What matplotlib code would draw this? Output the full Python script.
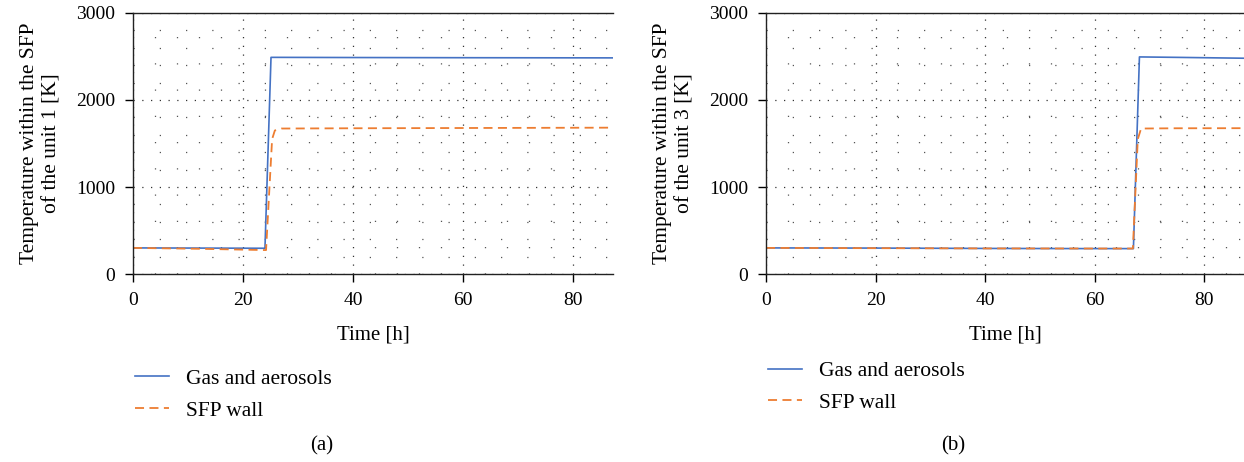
import numpy as np
import matplotlib.pyplot as plt
from matplotlib.ticker import MultipleLocator

# (a) unit 1, (b) unit 3
time_a = [0, 12, 24.0, 25.1, 26, 40, 60, 87.3]
gas_a = [300, 298, 296, 2490, 2490, 2488, 2486, 2484]
wall_time_a = [0, 12, 24.2, 25.3, 25.8, 27, 40, 60, 87.3]
wall_a = [300, 290, 275, 1550, 1650, 1672, 1675, 1678, 1682]

time_b = [0, 20, 40, 60, 67.1, 68.2, 75, 87.3]
gas_b = [300, 298, 294, 292, 292, 2495, 2490, 2480]
wall_time_b = [0, 20, 40, 60, 67.0, 67.9, 68.5, 75, 87.3]
wall_b = [300, 297, 294, 293, 293, 1550, 1672, 1675, 1676]

labels = ["Gas and aerosols", "SFP wall"]
ylabels = ["Temperature within the SFP\nof the unit 1 [K]",
           "Temperature within the SFP\nof the unit 3 [K]"]
panels = ["(a)", "(b)"]

blue = "#4472C4"
orange = "#ED7D31"

plt.rcParams['font.family'] = ['Liberation Serif', 'DejaVu Serif']
plt.rcParams['font.size'] = 14

fig = plt.figure(figsize=(12.44, 4.62), dpi=100)
ax_a = fig.add_axes([0.1069, 0.4069, 0.3859, 0.565])
ax_b = fig.add_axes([0.6158, 0.4069, 0.3842, 0.565])

series = [(ax_a, time_a, gas_a, wall_time_a, wall_a),
          (ax_b, time_b, gas_b, wall_time_b, wall_b)]

for i, (ax, t, g, wt, w) in enumerate(series):
    ax.plot(t, g, color=blue, lw=1.2, label=labels[0])
    ax.plot(wt, w, color=orange, lw=1.3, ls=(0, (5, 3)), label=labels[1])
    ax.set_xlim(0, 87.3)
    ax.set_ylim(0, 3000)
    ax.xaxis.set_major_locator(MultipleLocator(20))
    ax.xaxis.set_minor_locator(MultipleLocator(4))
    ax.yaxis.set_major_locator(MultipleLocator(1000))
    ax.yaxis.set_minor_locator(MultipleLocator(200))
    ax.grid(which='major', color='#333333', ls=(0, (1, 6)), lw=0.9)
    ax.grid(which='minor', color='#555555', ls=(0, (1, 20)), lw=0.9)
    ax.set_axisbelow(True)
    ax.spines['right'].set_visible(False)
    for s in ['left', 'bottom', 'top']:
        ax.spines[s].set_color('#222222')
        ax.spines[s].set_linewidth(1.0)
    ax.tick_params(which='major', direction='out', length=6, width=1,
                   labelsize=14, pad=7)
    ax.tick_params(which='minor', length=0)
    ax.set_xlabel("Time [h]", fontsize=15, labelpad=12)
    ax.set_ylabel(ylabels[i], fontsize=15.5, labelpad=10, linespacing=1.25)
    ax.legend(loc='upper left', bbox_to_anchor=(-0.037, -0.289 if i == 0 else -0.259),
              frameon=False, fontsize=15.5, handlelength=1.6, handletextpad=0.8,
              labelspacing=0.55)
    ax.text(0.393 if i == 0 else 0.391, -0.66, panels[i], transform=ax.transAxes,
            ha='center', va='center', fontsize=15)

fig.savefig("out.png", dpi=100)
